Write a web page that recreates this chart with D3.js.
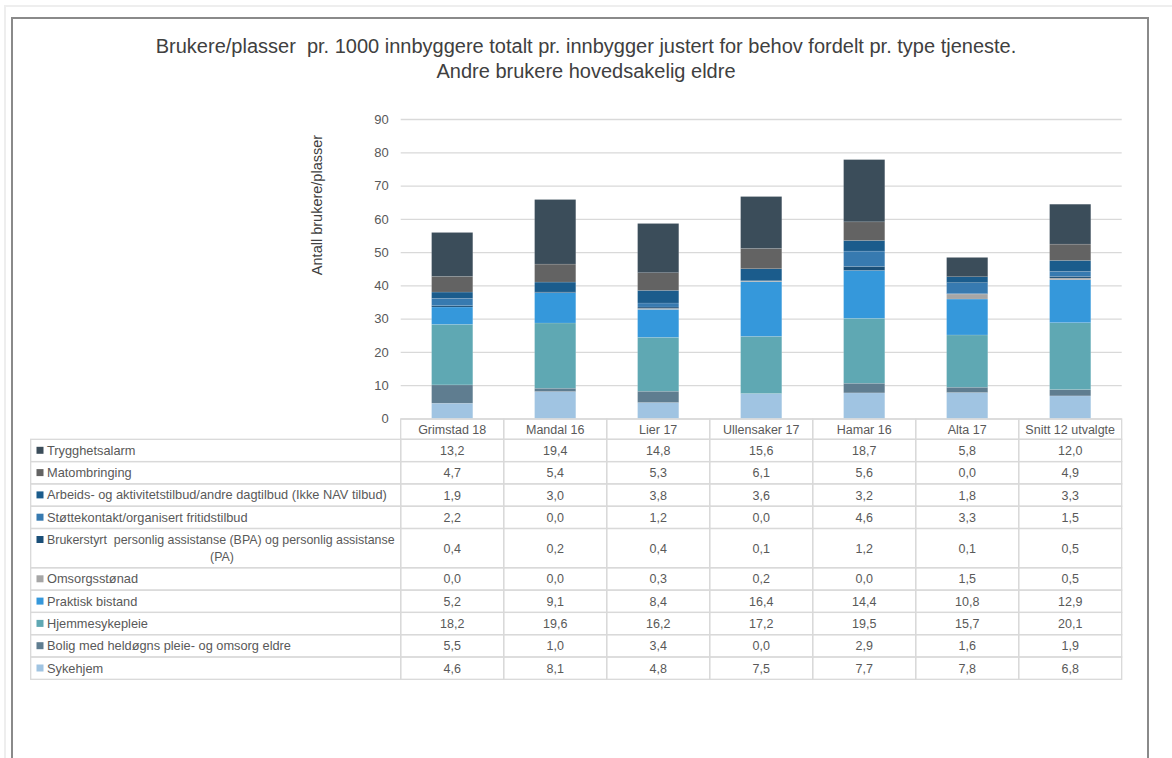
<!DOCTYPE html>
<html><head><meta charset="utf-8">
<script src="https://cdn.jsdelivr.net/npm/d3@7"></script>
<style>body{margin:0;background:#fff;}svg{display:block;}text{font-family:"Liberation Sans",Arial,sans-serif;white-space:pre;}</style>
</head><body><svg id="c" width="1172" height="758"></svg>
<script>
const categories = ["Grimstad 18","Mandal 16","Lier 17","Ullensaker 17","Hamar 16","Alta 17","Snitt 12 utvalgte"];
// series in stacking order (bottom to top)
const seriesNames = ["Sykehjem","Bolig med heldøgns pleie- og omsorg eldre","Hjemmesykepleie","Praktisk bistand","Omsorgsstønad","Brukerstyrt  personlig assistanse (BPA) og personlig assistanse (PA)","Støttekontakt/organisert fritidstilbud","Arbeids- og aktivitetstilbud/andre dagtilbud (Ikke NAV tilbud)","Matombringing","Trygghetsalarm"];
const sykehjem = [4.6,8.1,4.8,7.5,7.7,7.8,6.8];
const bolig = [5.5,1.0,3.4,0.0,2.9,1.6,1.9];
const hjemmesykepleie = [18.2,19.6,16.2,17.2,19.5,15.7,20.1];
const praktisk = [5.2,9.1,8.4,16.4,14.4,10.8,12.9];
const omsorgsstonad = [0.0,0.0,0.3,0.2,0.0,1.5,0.5];
const bpa = [0.4,0.2,0.4,0.1,1.2,0.1,0.5];
const stottekontakt = [2.2,0.0,1.2,0.0,4.6,3.3,1.5];
const arbeids = [1.9,3.0,3.8,3.6,3.2,1.8,3.3];
const matombringing = [4.7,5.4,5.3,6.1,5.6,0.0,4.9];
const trygghetsalarm = [13.2,19.4,14.8,15.6,18.7,5.8,12.0];
const seriesValues = [sykehjem,bolig,hjemmesykepleie,praktisk,omsorgsstonad,bpa,stottekontakt,arbeids,matombringing,trygghetsalarm];
const colors = ["#a0c4e2","#5f7d90","#5fa8b3","#3598db","#a6a6a6","#1a4f78","#377ab0","#1b5c8c","#636363","#3b4d5a"];
const yTicks = [0,10,20,30,40,50,60,70,80,90];
const titleLines = ["Brukere/plasser  pr. 1000 innbyggere totalt pr. innbygger justert for behov fordelt pr. type tjeneste.","Andre brukere hovedsakelig eldre"];
const yTitle = "Antall brukere/plasser";

const svg = d3.select("#c");
// frames
svg.append("rect").attr("x",4).attr("y",5).attr("width",1172).attr("height",2).attr("fill","#eeeeee");
svg.append("rect").attr("x",4).attr("y",5).attr("width",2).attr("height",760).attr("fill","#eeeeee");
svg.append("rect").attr("x",11).attr("y",17).attr("width",1138).attr("height",2).attr("fill","#8a8a8a");
svg.append("rect").attr("x",11).attr("y",17).attr("width",2).attr("height",760).attr("fill","#8a8a8a");
svg.append("rect").attr("x",1147).attr("y",17).attr("width",2).attr("height",760).attr("fill","#8a8a8a");

// title
svg.append("g").selectAll("text").data(titleLines).join("text")
  .attr("x",586).attr("y",(d,i)=>53+i*25).attr("text-anchor","middle")
  .attr("font-size",20).attr("fill","#404040").text(d=>d);

const x0 = 400.7, x1 = 1121.7;
const y = d3.scaleLinear().domain([0,90]).range([418.5,119]);
const x = d3.scaleBand().domain(categories).range([x0,x1]).paddingInner(0.6).paddingOuter(0.3);

// gridlines
const yAxis = d3.axisLeft(y).tickValues(yTicks).tickSize(-(x1-x0)).tickPadding(12);
const ga = svg.append("g").attr("transform",`translate(${x0},0)`).call(yAxis);
ga.select(".domain").remove();
ga.selectAll(".tick line").attr("stroke","#d9d9d9").attr("stroke-width",1.3);
ga.selectAll(".tick text").attr("font-size",13).attr("fill","#595959").attr("font-family","Liberation Sans, Arial, sans-serif");

// y title
svg.append("text").attr("transform","translate(322,205) rotate(-90)").attr("text-anchor","middle")
  .attr("font-size",14.5).attr("fill","#404040").text(yTitle);

// stacked bars
const rows = categories.map((c,i)=>{const o={cat:c}; seriesNames.forEach((s,k)=>o[s]=seriesValues[k][i]); return o;});
const stack = d3.stack().keys(seriesNames)(rows);
svg.append("g").selectAll("g").data(stack).join("g").attr("fill",(d,i)=>colors[i])
  .selectAll("rect").data(d=>d).join("rect")
  .attr("x",d=>x(d.data.cat)).attr("width",x.bandwidth())
  .attr("y",d=>y(d[1])).attr("height",d=>Math.max(0,y(d[0])-y(d[1])))
  .attr("stroke","#ffffff").attr("stroke-opacity",0.25).attr("stroke-width",0.5);

// table
const tableLeft = 30.7, headerTop = 419, headerH = 20.3;
const rowOrder = seriesNames.map((s,k)=>k).reverse();
const rowH = rowOrder.map(k=> k===5 ? 39.3 : 22.3);
const border = "#d9d9d9";
const txt = "#595959";
const tg = svg.append("g");
// header cells
categories.forEach((c,i)=>{
  const cx0 = x0 + i*x.step();
  tg.append("rect").attr("x",cx0).attr("y",headerTop).attr("width",x.step()).attr("height",headerH)
    .attr("fill","none").attr("stroke",border).attr("stroke-width",1.3);
  tg.append("text").attr("x",cx0+x.step()/2).attr("y",headerTop+15).attr("text-anchor","middle")
    .attr("font-size",12.5).attr("fill",txt).text(c);
});
let yy = headerTop + headerH;
rowOrder.forEach((k,r)=>{
  const h = rowH[r];
  tg.append("rect").attr("x",tableLeft).attr("y",yy).attr("width",x0-tableLeft).attr("height",h)
    .attr("fill","none").attr("stroke",border).attr("stroke-width",1.3);
  tg.append("rect").attr("x",36.5).attr("y",yy+7.5).attr("width",7).attr("height",7).attr("fill",colors[k]);
  if (k===5) {
    tg.append("text").attr("x",47).attr("y",yy+15.5).attr("font-size",12.4).attr("fill",txt)
      .text("Brukerstyrt  personlig assistanse (BPA) og personlig assistanse");
    tg.append("text").attr("x",222).attr("y",yy+32).attr("text-anchor","middle").attr("font-size",12.4).attr("fill",txt).text("(PA)");
  } else {
    tg.append("text").attr("x",47).attr("y",yy+15.5).attr("font-size",12.8).attr("fill",txt).text(seriesNames[k]);
  }
  categories.forEach((c,i)=>{
    const cx0 = x0 + i*x.step();
    tg.append("rect").attr("x",cx0).attr("y",yy).attr("width",x.step()).attr("height",h)
      .attr("fill","none").attr("stroke",border).attr("stroke-width",1.3);
    tg.append("text").attr("x",cx0+x.step()/2).attr("y",yy+h/2+4.5).attr("text-anchor","middle")
      .attr("font-size",12.5).attr("fill",txt).text(d3.format(".1f")(seriesValues[k][i]).replace(".",","));
  });
  yy += h;
});
</script></body></html>
